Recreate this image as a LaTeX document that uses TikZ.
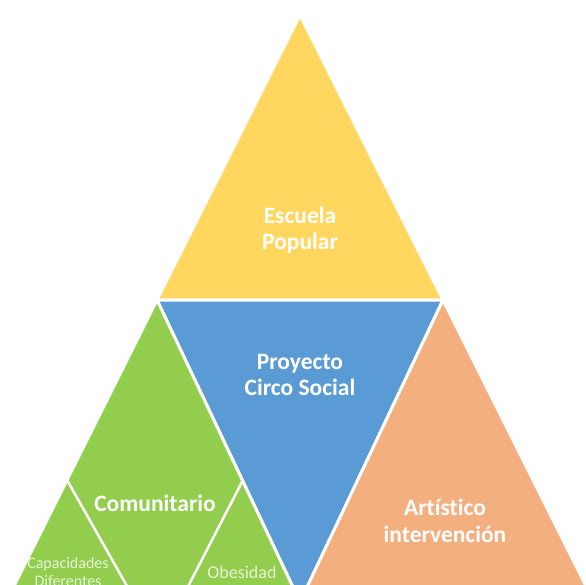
\documentclass[tikz,border=0pt]{standalone}
\usepackage{fontspec}
\setmainfont[Ligatures=CommonOff]{Carlito}
\definecolor{cyellow}{HTML}{FFD65E}
\definecolor{cblue}{HTML}{5B9BD5}
\definecolor{cgreen}{HTML}{92CD4E}
\definecolor{corange}{HTML}{F3AF7E}
\definecolor{clight}{HTML}{E6F4D6}
\tikzset{
  piece/.style={draw=white,line width=3pt,line join=miter},
  big/.style={text=white,font=\bfseries\fontsize{23.5}{26.5}\selectfont,align=center,inner sep=0pt},
  small/.style={text=clight,font=\fontsize{16}{18}\selectfont,align=center,inner sep=0pt},
  sep/.style={draw=white,line width=2.5pt}
}
\begin{document}
\begin{tikzpicture}[x=1pt,y=-1pt]
\useasboundingbox (0,0) rectangle (586,585);
\clip (0,0) rectangle (586,585);
% key points
\coordinate (A) at (300,15);
\coordinate (B) at (157,300);
\coordinate (C) at (443,300);
\coordinate (D) at (300,602);
\coordinate (E) at (6,602);
\coordinate (F) at (594,602);
\coordinate (G1) at (67,480);
\coordinate (G2) at (243,480);
\coordinate (H1) at (136,602);
\coordinate (H2) at (180,602);
% pieces
\fill[cyellow,piece] (A) -- (B) -- (C) -- cycle;
\fill[cblue,piece] (B) -- (C) -- (D) -- cycle;
\fill[cgreen,piece] (B) -- (D) -- (E) -- cycle;
\fill[corange,piece] (C) -- (F) -- (D) -- cycle;
\draw[sep] (G1) -- (H1);
\draw[sep] (G2) -- (H2);
% labels
\node[big] (esc) at (300,230) {Escuela\\Popular};
\node[big] (pro) at (300,375) {Proyecto\\Circo Social};
\node[big] (com) at (155,503) {Comunitario};
\node[big] (art) at (445,521) {Artístico\\intervención};
\node[small] (cap) at (68,572) {Capacidades\\Diferentes};
\node[small,font=\fontsize{18}{20}\selectfont] (obe) at (242,572) {Obesidad};
\end{tikzpicture}
\end{document}
